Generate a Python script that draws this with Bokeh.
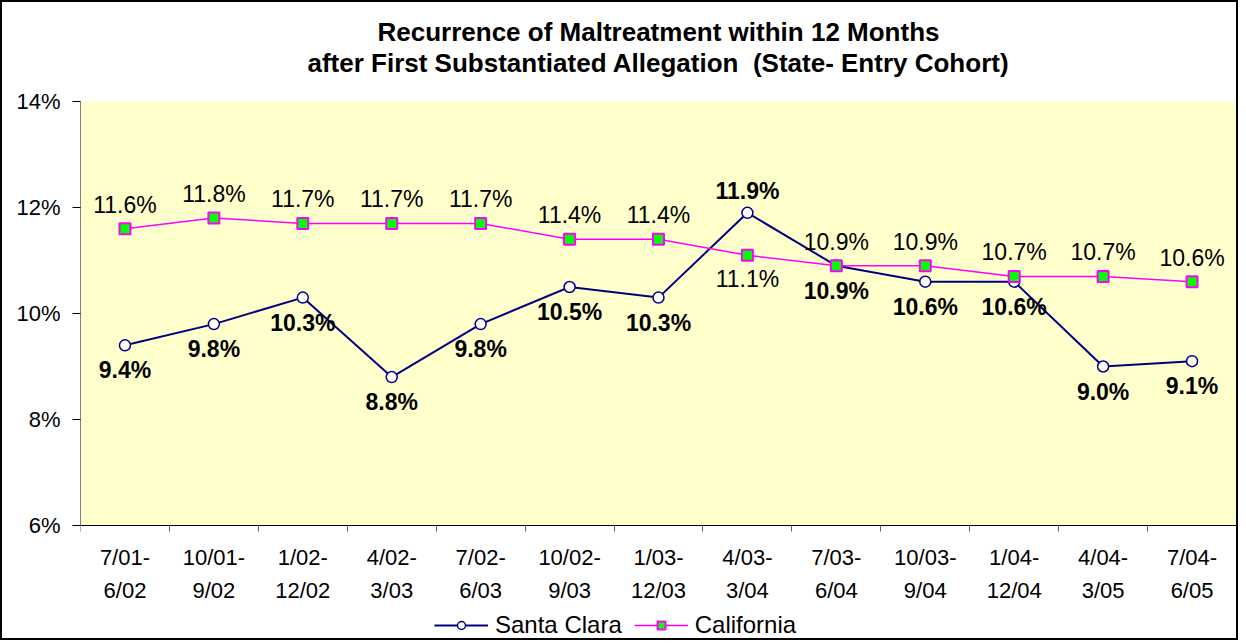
from bokeh.plotting import figure
from bokeh.models import (Range1d, FixedTicker, ColumnDataSource, LabelSet, Label,
                          Legend, LegendItem, BoxAnnotation)
from bokeh.core.properties import value
from bokeh.embed import file_html
from bokeh.resources import INLINE

periods = ["7/01-\n6/02", "10/01-\n9/02", "1/02-\n12/02", "4/02-\n3/03",
           "7/02-\n6/03", "10/02-\n9/03", "1/03-\n12/03", "4/03-\n3/04",
           "7/03-\n6/04", "10/03-\n9/04", "1/04-\n12/04", "4/04-\n3/05",
           "7/04-\n6/05"]
santa_clara = [9.4, 9.8, 10.3, 8.8, 9.8, 10.5, 10.3, 11.9, 10.9, 10.6, 10.6, 9.0, 9.1]
california = [11.6, 11.8, 11.7, 11.7, 11.7, 11.4, 11.4, 11.1, 10.9, 10.9, 10.7, 10.7, 10.6]
y_ticks = [6, 8, 10, 12, 14]
title_lines = ["Recurrence of Maltreatment within 12 Months",
               "after First Substantiated Allegation\u00a0 (State- Entry Cohort)"]

FONT = "Liberation Sans"
n = len(periods)
xs = [i + 0.5 for i in range(n)]
y_lo, y_hi = y_ticks[0], y_ticks[-1]

# layout (pixels, canvas coordinates)
W, H = 1238, 640
LEFT, RIGHT, EDGE = 78, 4, 2
PLOT_TOP, PLOT_H = 99, 424          # yellow plotting area
u = (y_hi - y_lo) / PLOT_H           # data units per pixel
y_end = y_hi + (PLOT_TOP - EDGE) * u
y_start = y_lo - (H - EDGE - PLOT_TOP - PLOT_H) * u
title_gaps = [70, 39]                # px from top of plot area to each title line centre

# label placement rule: the higher series gets its label above, the lower below
sc_off = [22 if s > c else -25 for s, c in zip(santa_clara, california)]
ca_off = [-24 if s > c else 24 for s, c in zip(santa_clara, california)]

src = ColumnDataSource(dict(
    x=xs, sc=santa_clara, ca=california,
    sc_txt=[f"{v:.1f}%" for v in santa_clara],
    ca_txt=[f"{v:.1f}%" for v in california],
    sc_off=sc_off, ca_off=ca_off))

p = figure(width=W, height=H, output_backend="svg", toolbar_location=None,
           x_range=Range1d(0, n), y_range=Range1d(y_start, y_end),
           min_border_left=LEFT, min_border_right=RIGHT, min_border_top=EDGE,
           min_border_bottom=EDGE, title=None)
p.styles = {"border": "2px solid black"}

p.background_fill_color = "white"
p.outline_line_color = None
p.xgrid.visible = False
p.ygrid.visible = False

# title
for line, gap in zip(title_lines, title_gaps):
    p.add_layout(Label(x=n / 2, y=y_hi + gap * u, text=line, text_align="center",
                       text_baseline="middle", text_font=FONT,
                       text_font_size="26px", text_font_style="bold",
                       text_color="black"))

# yellow plotting area
p.add_layout(BoxAnnotation(left=0, right=n, bottom=y_lo, top=y_hi,
                           fill_color="#FFFFCC", fill_alpha=1,
                           line_color=None, level="underlay"))

# x axis (drawn at the bottom of the yellow area)
p.xaxis.fixed_location = y_lo
p.xaxis.ticker = FixedTicker(ticks=xs, minor_ticks=list(range(n + 1)))
p.xaxis.major_label_overrides = {x: lab for x, lab in zip(xs, periods)}
p.xaxis.major_tick_out = 0
p.xaxis.major_tick_in = 0
p.xaxis.minor_tick_out = 6
p.xaxis.minor_tick_in = 0
p.xaxis.minor_tick_line_color = "#606060"
p.xaxis.axis_line_color = "black"
p.xaxis.major_label_text_font = FONT
p.xaxis.major_label_text_font_size = "22px"
p.xaxis.major_label_text_line_height = 1.35
p.xaxis.major_label_standoff = 13
p.xaxis.major_label_text_color = "black"

# y axis
p.yaxis.ticker = FixedTicker(ticks=y_ticks, minor_ticks=[])
p.yaxis.bounds = (y_lo, y_hi)
p.yaxis.major_label_overrides = {t: f"{t}%" for t in y_ticks}
p.yaxis.major_tick_out = 8
p.yaxis.major_tick_in = 0
p.yaxis.axis_line_color = "#808080"
p.yaxis.major_tick_line_color = "black"
p.yaxis.major_label_text_font = FONT
p.yaxis.major_label_text_font_size = "22px"
p.yaxis.major_label_standoff = 12
p.yaxis.major_label_text_color = "black"

sc_line = p.line("x", "sc", source=src, line_color="#000080", line_width=2)
sc_pts = p.scatter("x", "sc", source=src, marker="circle", size=11,
                   fill_color="white", line_color="#000080", line_width=1.5)
ca_line = p.line("x", "ca", source=src, line_color="#FF00FF", line_width=1.5)
ca_pts = p.scatter("x", "ca", source=src, marker="square", size=11,
                   fill_color="#00FF00", line_color="#FF00FF", line_width=2)

p.add_layout(LabelSet(x="x", y="ca", text="ca_txt", source=src, y_offset="ca_off",
                      text_align="center", text_baseline="middle",
                      text_font=value(FONT), text_font_size="23px",
                      text_color="black"))
p.add_layout(LabelSet(x="x", y="sc", text="sc_txt", source=src, y_offset="sc_off",
                      text_align="center", text_baseline="middle",
                      text_font=value(FONT), text_font_size="23px",
                      text_font_style="bold", text_color="black"))

legend = Legend(items=[LegendItem(label="Santa Clara", renderers=[sc_line, sc_pts]),
                       LegendItem(label="California", renderers=[ca_line, ca_pts])],
                orientation="horizontal", location=(354, 1),
                border_line_color=None, background_fill_alpha=0,
                glyph_width=54, glyph_height=20, label_text_font=FONT,
                label_text_font_size="24px", spacing=12, padding=2, margin=0,
                label_standoff=7, label_text_color="black")
p.add_layout(legend, "center")

open("out.html", "w").write(file_html(p, INLINE))
